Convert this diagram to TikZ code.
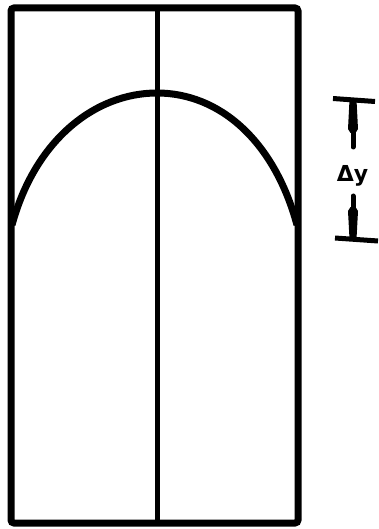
\documentclass[tikz,border=0pt]{standalone}
\usepackage{fontspec}
\setmainfont{DejaVu Sans}
\begin{document}
\begin{tikzpicture}[x=1pt,y=-1pt,
    wall/.style={line width=7pt, rounded corners=3pt},
    dimline/.style={line width=5pt},
    shaft/.style={line width=5pt, line cap=round}]
    \useasboundingbox (0,0) rectangle (379,529);

    % Behälter
    \draw[wall] (11,8) rectangle (298,523);
    % Mittellinie
    \draw[line width=5pt] (157,8) -- (157,523);

    % gewölbte Oberfläche
    \draw[line width=7pt] (12,225) .. controls (35,140) and (95,93) .. (157,93)
        .. controls (219,93) and (274,140) .. (297,225);

    % Höhenunterschied
    \coordinate (ytop) at (353,100);
    \coordinate (ybot) at (353,239);
    \coordinate (atop) at (353,147);
    \coordinate (abot) at (353,196);
    \draw[dimline] (333,98.5) -- (375,101.5);
    \draw[dimline] (335,238) -- (378,241);
    \node[font=\bfseries\fontsize{22}{26}\selectfont, inner sep=0pt, anchor=base] (dy) at (352.5,182) {Δy};

    % Pfeil oben
    \draw[shaft] (atop) -- (353,131);
    \fill (ytop) ++(-3.5,0) -- ++(7,0) -- ++(1.5,29) -- ++(-2.5,4) -- ++(-5,0)
        -- ++(-2.5,-4) -- cycle;
    % Pfeil unten
    \draw[shaft] (abot) -- (353,209);
    \fill (ybot) ++(-3.5,0) -- ++(7,0) -- ++(1.5,-28) -- ++(-2.5,-4) -- ++(-5,0)
        -- ++(-2.5,4) -- cycle;
\end{tikzpicture}
\end{document}
